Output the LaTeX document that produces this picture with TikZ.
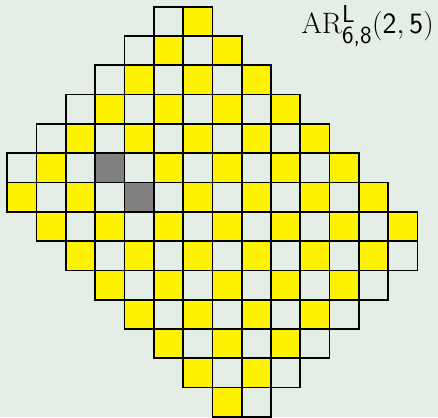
\documentclass[tikz,border=0pt]{standalone}
\usepackage{amsmath}
\definecolor{bgc}{RGB}{228,238,230}
\definecolor{celly}{RGB}{255,242,0}
\definecolor{cellg}{RGB}{128,128,128}
\tikzset{
  cellbox/.style={draw=black,line width=1.7bp},
}
\begin{document}
\begin{tikzpicture}[x=1bp,y=-1bp]
\fill[bgc] (0,0) rectangle (438,417);
\useasboundingbox (0,0) rectangle (438,417);
\def\ox{7.3}\def\oy{6.7}\def\cs{29.3}
\foreach \r/\a/\b in {0/5/6,1/4/7,2/3/8,3/2/9,4/1/10,5/0/11,6/0/12,7/1/13,8/2/13,9/3/12,10/4/11,11/5/10,12/6/9,13/7/8}{
  \foreach \c in {\a,...,\b}{
    \pgfmathtruncatemacro\p{mod(\r+\c,2)}
    \ifnum\p=0 \def\cc{celly}\else\def\cc{bgc}\fi
    \ifnum\r=5 \ifnum\c=3 \def\cc{cellg}\fi\fi
    \ifnum\r=6 \ifnum\c=4 \def\cc{cellg}\fi\fi
    \path[cellbox,fill=\cc] ({\ox+\cs*\c},{\oy+\cs*\r}) rectangle ++(\cs,\cs);
  }
}
\node[anchor=base east,inner sep=0pt,font=\Huge,scale=1.19] (title) at (434,33.3)
  {$\mathrm{AR}^{\text{\sffamily L}}_{\text{\sffamily 6,8}}(\mathsf{2},\mathsf{5})$};
\end{tikzpicture}
\end{document}
